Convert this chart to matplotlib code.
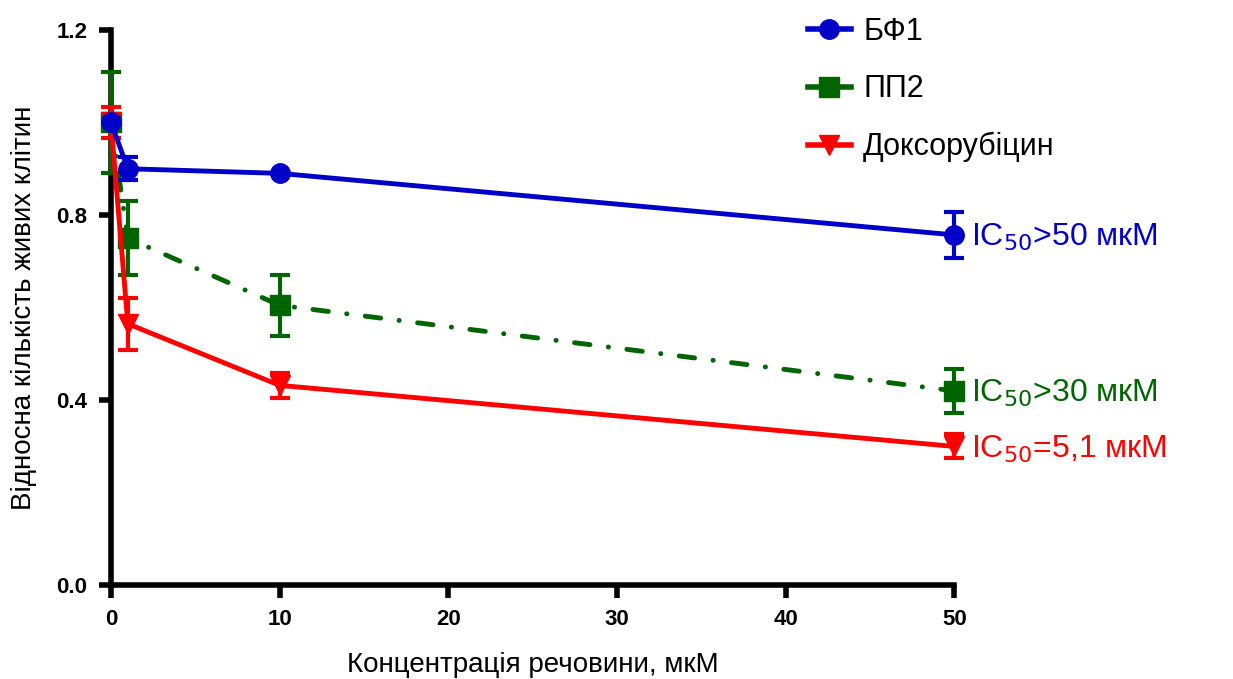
import matplotlib
matplotlib.use("Agg")
import matplotlib.pyplot as plt
from matplotlib.lines import Line2D

plt.rcParams['font.family'] = ['Liberation Sans', 'DejaVu Sans']

# concentrations, мкМ
conc = [0, 1, 10, 50]

# relative number of living cells (mean, SD)
bf1 = [1.00, 0.90, 0.89, 0.757]
bf1_err = [0.0, 0.025, 0.0, 0.05]
pp2 = [1.00, 0.75, 0.605, 0.42]
pp2_err = [0.11, 0.08, 0.066, 0.047]
dox = [1.00, 0.565, 0.432, 0.30]
dox_err = [0.033, 0.056, 0.027, 0.026]

labels = ['БФ1', 'ПП2', 'Доксорубіцин']
ic50_text = ['IC$_{50}$>50 мкМ', 'IC$_{50}$>30 мкМ', 'IC$_{50}$=5,1 мкМ']

xticks = [0, 10, 20, 30, 40, 50]
yticks = [0.0, 0.4, 0.8, 1.2]

c_blue = '#0000c8'
c_green = '#006400'
c_red = '#ff0000'

fig = plt.figure(figsize=(12.33, 6.79), dpi=100)
ax = fig.add_axes([0.090, 0.138, 0.684, 0.818])

common = dict(lw=3.5, capsize=7, capthick=3, elinewidth=3, clip_on=False)

ax.errorbar(conc, pp2, yerr=pp2_err, color=c_green, marker='s', ms=14,
            dashes=(3.2, 3.8, 0.05, 3.8), dash_capstyle='round',
            zorder=3, **common)
ax.errorbar(conc, dox, yerr=dox_err, color=c_red, marker='v', ms=14,
            zorder=4, **common)
ax.errorbar(conc, bf1, yerr=bf1_err, color=c_blue, marker='o', ms=14,
            zorder=5, **common)

ax.set_xlim(0, 50)
ax.set_ylim(0, 1.2)
ax.set_xticks(xticks)
ax.set_yticks(yticks)
ax.set_xticklabels([str(t) for t in xticks])
ax.set_yticklabels([f'{t:.1f}' for t in yticks])

for side in ('top', 'right'):
    ax.spines[side].set_visible(False)
for side in ('left', 'bottom'):
    ax.spines[side].set_linewidth(4)
ax.tick_params(axis='both', direction='out', length=9, width=4,
               labelsize=16, pad=8)
for lab in ax.get_xticklabels() + ax.get_yticklabels():
    lab.set_fontweight('bold')

ax.set_xlabel('Концентрація речовини, мкМ', fontsize=20, labelpad=16)
ax.set_ylabel('Відносна кількість живих клітин', fontsize=20, labelpad=14)

# IC50 annotations next to the last points
for yv, txt, col in zip([bf1[-1], pp2[-1], dox[-1]], ic50_text,
                        [c_blue, c_green, c_red]):
    ax.annotate(txt, xy=(conc[-1], yv), xytext=(12, -2),
                textcoords='offset points', va='center', ha='left',
                fontsize=23, color=col, annotation_clip=False)

handles = [
    Line2D([], [], color=c_blue, marker='o', ms=14, lw=4),
    Line2D([], [], color=c_green, marker='s', ms=14, lw=4),
    Line2D([], [], color=c_red, marker='v', ms=14, lw=4),
]
fig.legend(handles, labels, loc='upper left',
           bbox_to_anchor=(808 / 1233, 0.975), borderpad=0, borderaxespad=0,
           frameon=False, fontsize=22, handlelength=1.4, labelspacing=0.9,
           handletextpad=0.4)

fig.savefig('out.png', dpi=100)
